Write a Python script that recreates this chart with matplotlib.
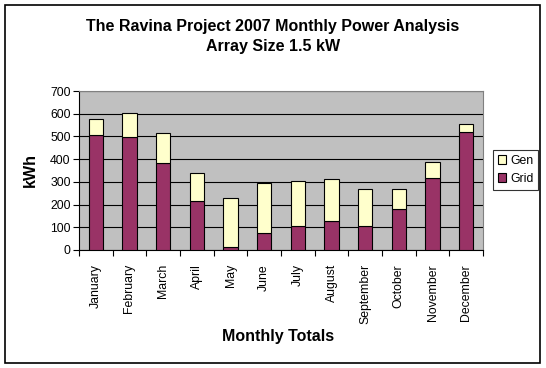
import matplotlib
matplotlib.use("Agg")
import matplotlib.pyplot as plt
from matplotlib.patches import Rectangle
import numpy as np

plt.rcParams['font.family'] = ['Liberation Sans', 'DejaVu Sans']

months = ["January", "February", "March", "April", "May", "June", "July",
          "August", "September", "October", "November", "December"]
grid = [505, 496, 382, 214, 13, 73, 104, 126, 104, 179, 316, 518]
gen = [70, 106, 132, 124, 215, 221, 198, 185, 163, 88, 70, 37]
yticks = [0, 100, 200, 300, 400, 500, 600, 700]

W, H = 546, 368
fig = plt.figure(figsize=(W / 100, H / 100), dpi=100)
fig.patch.set_facecolor('white')
fig.patches.append(Rectangle((5 / W, 1 - 363 / H), 535 / W, 358 / H,
                             transform=fig.transFigure, fill=False,
                             edgecolor='black', linewidth=1.2))

ax = fig.add_axes([79 / W, 1 - 250 / H, 404 / W, 159 / H])
ax.set_facecolor('#C0C0C0')
x = np.arange(len(months))
bw = 0.42
ax.bar(x, grid, bw, color='#993366', edgecolor='black', linewidth=0.8,
       label='Grid', zorder=3)
ax.bar(x, gen, bw, bottom=grid, color='#FFFFCC', edgecolor='black',
       linewidth=0.8, label='Gen', zorder=3)

ax.set_xlim(-0.5, len(months) - 0.5)
ax.set_ylim(0, 700)
ax.set_yticks(yticks)
ax.set_yticklabels([str(v) for v in yticks], fontsize=8.8)
ax.yaxis.grid(True, color='black', linewidth=0.8, zorder=1)
ax.set_axisbelow(True)

ax.set_xticks(x)
ax.set_xticklabels(months, rotation=90, fontsize=8.8, va='top', ha='center')
ax.tick_params(axis='x', length=0, pad=10)
ax.set_xticks(np.arange(-0.5, len(months), 1), minor=True)
ax.tick_params(axis='x', which='minor', length=4, direction='out', width=0.8)
ax.tick_params(axis='y', length=4, direction='out', width=0.8, pad=2)

for s in ['top', 'right']:
    ax.spines[s].set_color('#808080')
    ax.spines[s].set_linewidth(0.8)
for s in ['left', 'bottom']:
    ax.spines[s].set_color('black')
    ax.spines[s].set_linewidth(0.8)

fig.text(273 / W, 1 - 27 / H, "The Ravina Project 2007 Monthly Power Analysis",
         ha='center', va='center', fontsize=11.5, fontweight='bold')
fig.text(273 / W, 1 - 47 / H, "Array Size 1.5 kW",
         ha='center', va='center', fontsize=11.5, fontweight='bold')
fig.text(278 / W, 1 - 337 / H, "Monthly Totals",
         ha='center', va='center', fontsize=11.5, fontweight='bold')
fig.text(30 / W, 1 - 170 / H, "kWh", ha='center', va='center',
         rotation=90, fontsize=11.5, fontweight='bold')

handles, labels = ax.get_legend_handles_labels()
leg = fig.legend(handles[::-1], labels[::-1], loc='center',
                 bbox_to_anchor=(515.5 / W, 1 - 170 / H), fontsize=8.8,
                 frameon=True, fancybox=False, edgecolor='black',
                 handlelength=0.7, handleheight=0.7, handletextpad=0.3,
                 borderpad=0.4, labelspacing=0.5, borderaxespad=0)
leg.get_frame().set_linewidth(0.8)

fig.savefig("out.png", dpi=100)
